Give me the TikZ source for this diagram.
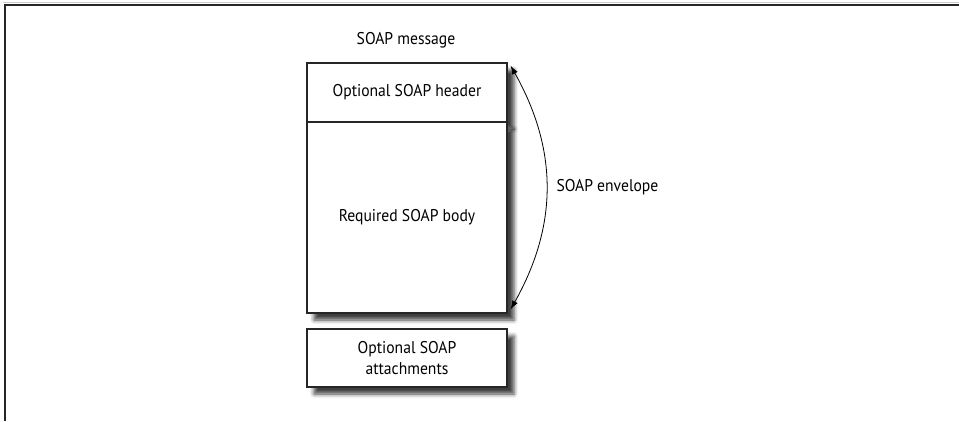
\documentclass[tikz,border=0pt]{standalone}
\usepackage{fontspec}
\setmainfont{PT Sans}[FakeStretch=0.92]
\usetikzlibrary{arrows.meta,shadows.blur}

\begin{document}
\begin{tikzpicture}[x=1pt,y=-1pt]

      \useasboundingbox (0,0) rectangle (959,421);
      \draw[black!20,line width=0.8pt] (3,2.5) -- (959,2.5);
      \draw[black!85,line width=1.4pt] (5,421) -- (5,5) -- (959,5);

      \begin{scope}[every node/.style={draw=black!85,line width=1.1pt,fill=white,
          minimum width=200pt,align=center,font=\fontsize{17}{21}\selectfont,
          blur shadow={shadow xshift=7pt,shadow yshift=-7pt,shadow blur radius=4pt,shadow opacity=75}}]
        \node[minimum height=59pt]  (header) at (407,92.5)  {Optional SOAP header};
        \node[minimum height=191pt] (body)   at (407,217.5) {Required SOAP body};
        \node[minimum height=58pt]  (attach) at (407,358)   {Optional SOAP\\attachments};
      \end{scope}

      \begin{scope}[every node/.style={font=\fontsize{17}{21}\selectfont}]
        \node (msg) at (406,40) {SOAP message};
        \node[anchor=west] (env) at (553,187) {SOAP envelope};
      \end{scope}

      \coordinate (envtop) at ([shift={(3,3)}]header.north east);
      \coordinate (envbot) at ([shift={(3,-4)}]body.south east);
      \draw[{Latex[length=9pt,width=6pt]}-{Latex[length=9pt,width=6pt]},line width=0.8pt]
        (envtop) .. controls (558,150) and (558,225) .. (envbot);

    \end{tikzpicture}
\end{document}
